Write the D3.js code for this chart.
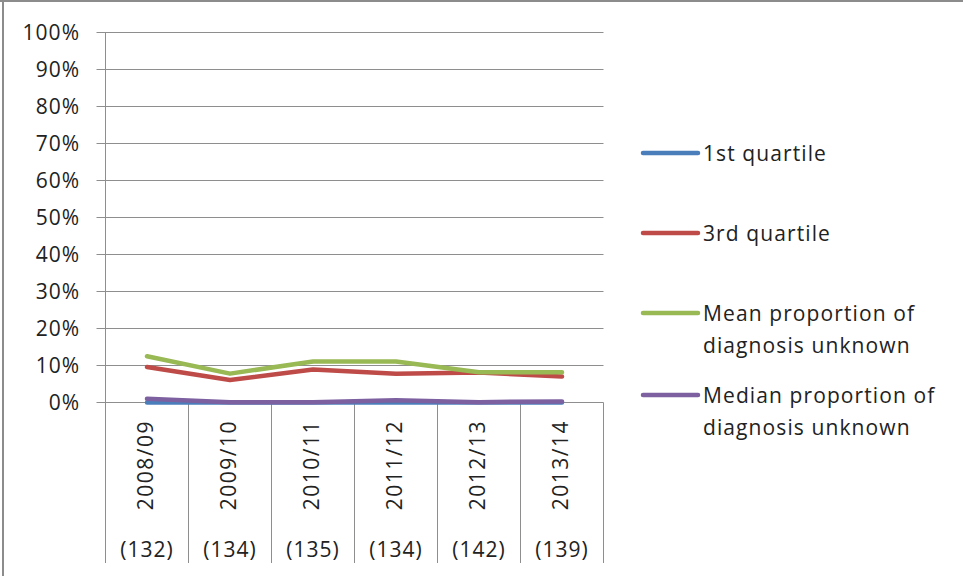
<!DOCTYPE html>
<html><head><meta charset="utf-8">
<script src="https://cdn.jsdelivr.net/npm/d3@7"></script>
<style>body{margin:0;background:#fff;} svg{display:block;font-family:"Open Sans","Noto Sans",sans-serif;}</style>
</head><body>
<svg id="c" width="963" height="576"></svg>
<script>
const categories = ["2008/09","2009/10","2010/11","2011/12","2012/13","2013/14"];
const counts = ["(132)","(134)","(135)","(134)","(142)","(139)"];
const q1 = [0.0, 0.0, 0.0, 0.0, 0.0, 0.0];
const q3 = [9.6, 6.1, 8.9, 7.8, 8.1, 7.0];
const meanVals = [12.5, 7.8, 11.1, 11.1, 8.2, 8.2];
const medianVals = [1.0, 0.1, 0.1, 0.6, 0.1, 0.3];
const yTicks = [0,10,20,30,40,50,60,70,80,90,100];
const seriesNames = ["1st quartile","3rd quartile","Mean proportion of\ndiagnosis unknown","Median proportion of\ndiagnosis unknown"];
const seriesColors = ["#4A7EBB","#BE4B48","#98B954","#7D60A0"];
const seriesData = [q1, q3, meanVals, medianVals];

(function(){
const svg = d3.select("#c");
svg.append("line").attr("x1",0).attr("x2",963).attr("y1",1).attr("y2",1).attr("stroke","#8c8c8c").attr("stroke-width",2);
svg.append("line").attr("x1",3).attr("x2",3).attr("y1",0).attr("y2",576).attr("stroke","#8c8c8c").attr("stroke-width",2);

const pL=105.5, pR=603.5, pT=32.5, pB=402.5;
const x = d3.scaleBand().domain(categories).range([pL,pR]);
const y = d3.scaleLinear().domain([0,100]).range([pB,pT]);
const grid="#8e8e8e";
const txt="#222";

svg.append("g").selectAll("line").data(yTicks).join("line")
  .attr("x1",pL-9).attr("x2",pR).attr("y1",d=>y(d)).attr("y2",d=>y(d))
  .attr("stroke",grid).attr("stroke-width",1);
svg.append("line").attr("x1",pL).attr("x2",pL).attr("y1",pT).attr("y2",563).attr("stroke",grid);
svg.append("g").selectAll("line").data(categories).join("line")
  .attr("x1",d=>x(d)+x.bandwidth()).attr("x2",d=>x(d)+x.bandwidth())
  .attr("y1",pB).attr("y2",563).attr("stroke",grid);

svg.append("g").selectAll("text").data(yTicks).join("text")
  .attr("x",80).attr("y",d=>y(d)).attr("dy","0.36em").attr("text-anchor","end")
  .attr("font-size",21).attr("letter-spacing","1px").attr("fill",txt).text(d=>d+"%");

svg.append("g").selectAll("text").data(categories).join("text")
  .attr("transform",d=>`translate(${x(d)+x.bandwidth()/2+6},420) rotate(-90)`)
  .attr("text-anchor","end").attr("font-size",21).attr("letter-spacing","1.5px").attr("fill",txt).text(d=>d);
svg.append("g").selectAll("text").data(counts).join("text")
  .attr("x",(d,i)=>x(categories[i])+x.bandwidth()/2).attr("y",549).attr("dy","0.36em")
  .attr("text-anchor","middle").attr("font-size",21).attr("letter-spacing","1px").attr("fill",txt).text(d=>d);

const line = d3.line().x((d,i)=>x(categories[i])+x.bandwidth()/2).y(d=>y(d));
seriesData.forEach((s,k)=>{
  svg.append("path").datum(s).attr("d",line).attr("fill","none")
    .attr("stroke",seriesColors[k]).attr("stroke-width",4.5).attr("stroke-linejoin","round").attr("stroke-linecap","round");
});

const legY = [153, 233, 313, 395];
seriesNames.forEach((n,k)=>{
  svg.append("line").attr("x1",643).attr("x2",698).attr("y1",legY[k]).attr("y2",legY[k])
    .attr("stroke",seriesColors[k]).attr("stroke-width",4.5).attr("stroke-linecap","round");
  const t = svg.append("text").attr("x",703).attr("y",legY[k]).attr("font-size",21).attr("letter-spacing","1.1px").attr("fill",txt);
  n.split("\n").forEach((ln,j)=>{
    t.append("tspan").attr("x",703).attr("dy", j===0?"0.36em":"32px").text(ln);
  });
});
})();
</script>
</body></html>
